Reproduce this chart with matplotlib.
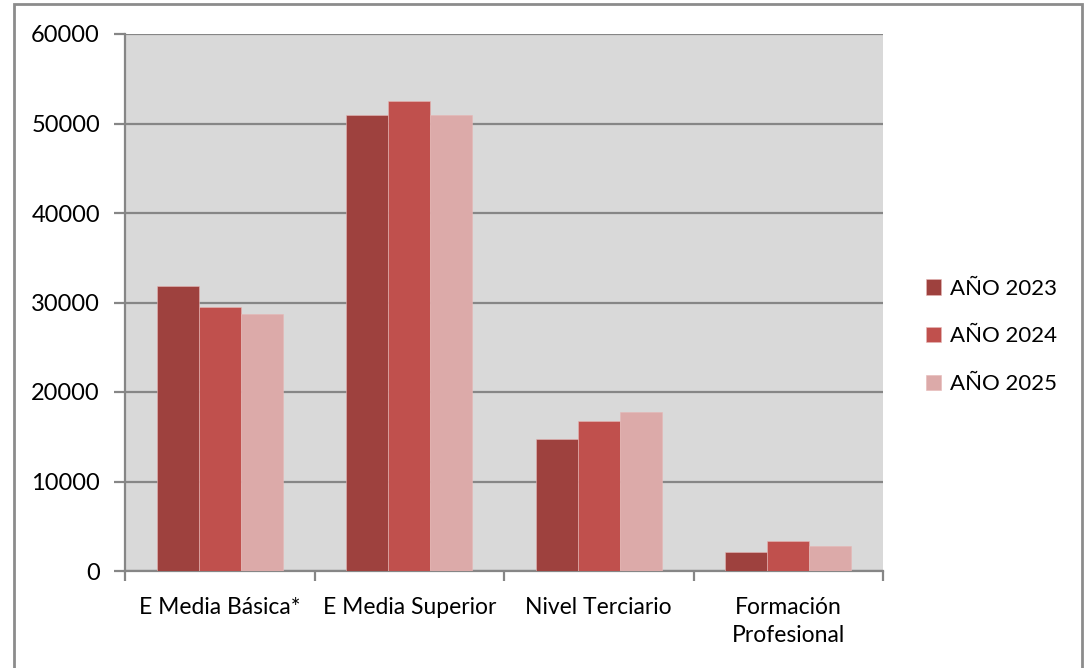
import numpy as np
import matplotlib.pyplot as plt
from matplotlib.patches import Rectangle

plt.rcParams['font.family'] = ['Lato', 'DejaVu Sans']

categorias = ['E Media Básica*', 'E Media Superior', 'Nivel Terciario', 'Formación\nProfesional']
series = ['AÑO 2023', 'AÑO 2024', 'AÑO 2025']
v2023 = [31800, 51000, 14750, 2100]
v2024 = [29500, 52500, 16800, 3300]
v2025 = [28700, 50900, 17750, 2800]
colores = ['#9e413e', '#c0504d', '#dcaaa9']

W, H = 1086, 668
fig = plt.figure(figsize=(W / 100, H / 100), dpi=100)
ax = fig.add_axes([125 / W, 1 - 571 / H, (883 - 125) / W, (571 - 34) / H])

# outer frame of the chart
fig.patches.append(Rectangle((14 / W, -0.01), (1082 - 14) / W, 1 - 4 / H + 0.01,
                             transform=fig.transFigure, fill=False,
                             edgecolor='#8c8c8c', linewidth=2))

x = np.arange(len(categorias))
w = 0.222
for i, (vals, c, s) in enumerate(zip([v2023, v2024, v2025], colores, series)):
    ax.bar(x + (i - 1) * w, vals, w, color=c, label=s, zorder=3,
           edgecolor='#e6b8b7', linewidth=0.4)

ax.set_facecolor('#d9d9d9')
ax.set_xlim(-0.5, len(categorias) - 0.5)
ax.set_ylim(0, 60000)
ax.set_yticks(range(0, 60001, 10000))
ax.yaxis.grid(True, color='#868686', linewidth=1.6, zorder=1)
for sp in ['top', 'right']:
    ax.spines[sp].set_visible(False)
for sp in ['left', 'bottom']:
    ax.spines[sp].set_color('#868686')
    ax.spines[sp].set_linewidth(1.6)

ax.set_xticks(np.arange(-0.5, len(categorias), 1))
ax.set_xticklabels([])
ax.set_xticks(x, minor=True)
ax.set_xticklabels(categorias, minor=True, fontsize=16.5, linespacing=1.4)
ax.tick_params(axis='x', which='major', length=7, width=1.6, color='#868686', direction='out')
ax.tick_params(axis='x', which='minor', length=0, pad=19)
ax.tick_params(axis='y', length=8, width=1.6, color='#868686', labelsize=17, pad=10)

ax.legend(loc='center left', bbox_to_anchor=(1.03, 0.437), frameon=False, fontsize=16,
          handlelength=0.7, handleheight=0.7, handletextpad=0.4, labelspacing=1.25)

fig.savefig('out.png', dpi=100)
